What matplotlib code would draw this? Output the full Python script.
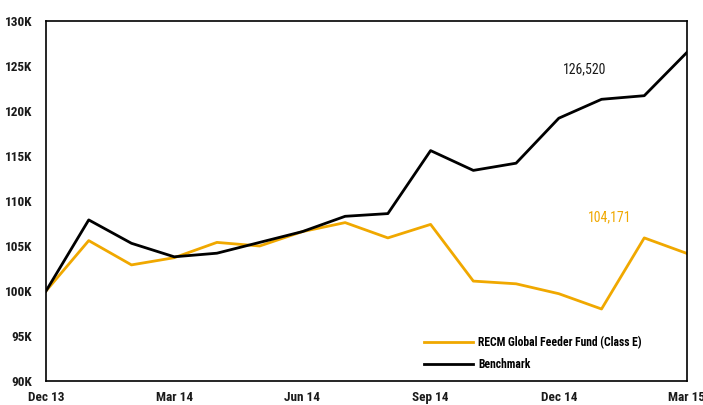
import matplotlib
matplotlib.use("Agg")
import matplotlib.pyplot as plt
from matplotlib import font_manager as fm

months = ["Dec 13", "Jan 14", "Feb 14", "Mar 14", "Apr 14", "May 14", "Jun 14", "Jul 14",
          "Aug 14", "Sep 14", "Oct 14", "Nov 14", "Dec 14", "Jan 15", "Feb 15", "Mar 15"]
fund = [100.0, 105.6, 102.9, 103.7, 105.4, 105.0, 106.6, 107.6,
        105.9, 107.4, 101.1, 100.8, 99.7, 98.0, 105.9, 104.171]
bench = [100.0, 107.9, 105.3, 103.8, 104.2, 105.4, 106.6, 108.3,
         108.6, 115.6, 113.4, 114.2, 119.2, 121.3, 121.7, 126.52]
xtick_labels = ["Dec 13", "Mar 14", "Jun 14", "Sep 14", "Dec 14", "Mar 15"]
ytick_vals = [90, 95, 100, 105, 110, 115, 120, 125, 130]
fund_label = "RECM Global Feeder Fund (Class E)"
bench_label = "Benchmark"

names = {f.name for f in fm.fontManager.ttflist}
fam = [n for n in ["Roboto Condensed", "Archivo Narrow", "Asap Condensed"] if n in names] + ["DejaVu Sans"]
plt.rcParams["font.family"] = fam

gold = "#F0A800"
dark = "#1a1a1a"
fig = plt.figure(figsize=(7.03, 4.05), dpi=100)
ax = fig.add_axes([46/703, 24/405, (687-46)/703, (381-21)/405])
x = list(range(len(months)))
ax.plot(x, fund, color=gold, lw=2, label=fund_label)
ax.plot(x, bench, color="black", lw=2, label=bench_label)
ax.set_xlim(0, len(months)-1)
ax.set_ylim(90, 130)
ax.set_xticks([0, 3, 6, 9, 12, 15])
ax.set_xticklabels(xtick_labels, fontsize=9.5, fontweight="bold", color=dark)
ax.set_yticks(ytick_vals)
ax.set_yticklabels([f"{v}K" for v in ytick_vals], fontsize=9.5, fontweight="bold", color=dark)
ax.tick_params(axis="y", length=0, pad=10)
ax.tick_params(axis="x", length=0, pad=7)
for s in ax.spines.values():
    s.set_linewidth(1.2)
ax.text(12.6, 124.6, f"{bench[-1]*1000:,.0f}", fontsize=10, color=dark, ha="center", va="center")
ax.text(13.2, 108.2, f"{fund[-1]*1000:,.0f}", fontsize=10, color=gold, ha="center", va="center")
leg = ax.legend(loc="upper left", bbox_to_anchor=((424-46)/641, (381-336)/360), frameon=False,
                prop={"weight": "bold", "size": 8.4}, handlelength=4.2,
                handletextpad=0.45, labelspacing=0.75, borderpad=0, borderaxespad=0)
fig.savefig("out.png", dpi=100)
